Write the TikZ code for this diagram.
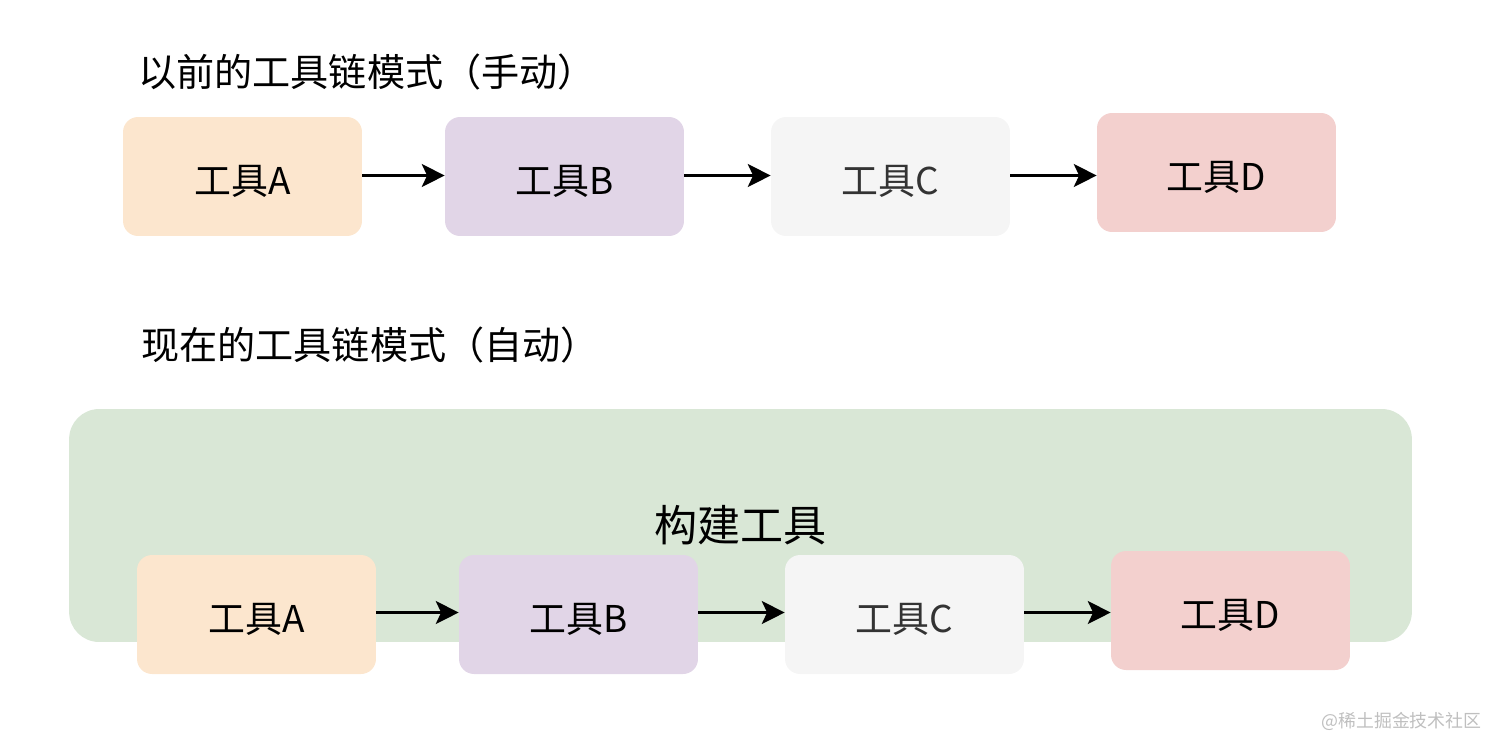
\documentclass[tikz,border=0pt]{standalone}
\usepackage{fontspec}
\setmainfont{Noto Sans CJK SC}
\usetikzlibrary{arrows.meta}

\definecolor{peach}{HTML}{FCE6CE}
\definecolor{lilac}{HTML}{E1D5E7}
\definecolor{pale}{HTML}{F5F5F5}
\definecolor{rose}{HTML}{F3D0CE}
\definecolor{sage}{HTML}{D9E7D6}
\definecolor{darktext}{HTML}{333333}

\begin{document}
\begin{tikzpicture}[x=0.02cm, y=-0.02cm,
	tool/.style={rounded corners=0.3cm, minimum width=4.78cm, minimum height=2.38cm, inner sep=0pt, text height=24pt, text depth=3pt, font=\fontsize{21}{21}\selectfont},
	title/.style={anchor=west, inner sep=0pt, font=\fontsize{21.7}{21.7}\selectfont},
	link/.style={-{Stealth[length=13pt, width=13pt, inset=3pt]}, line width=1.7pt}]
				\useasboundingbox (0,0) rectangle (1490,738);
				
				% manual chain
				\node[title] (T1) at (138,72) {以前的工具链模式（手动）};
				\node[tool, fill=peach] (A1) at (242.5,176.5) {工具A};
				\node[tool, fill=lilac] (B1) at (564.5,176.5) {工具B};
				\node[tool, fill=pale, text=darktext] (C1) at (890.5,176.5) {工具C};
				\node[tool, fill=rose] (D1) at (1216.5,172.5) {工具D};
				
				\draw[link] ([yshift=0.02cm]A1.east) -- ([yshift=0.02cm]B1.west);
				\draw[link] ([yshift=0.02cm]B1.east) -- ([yshift=0.02cm]C1.west);
				\draw[link] ([yshift=0.02cm]C1.east) -- ([yshift=0.02cm]C1.east -| D1.west);
				
				% automatic chain
				\node[title] (T2) at (141,345) {现在的工具链模式（自动）};
				\node[fill=sage, rounded corners=0.6cm, minimum width=26.86cm, minimum height=4.66cm, inner sep=0pt, font=\fontsize{24.5}{24.5}\selectfont] (build) at (740.5,525.5) {构建工具};
				\node[tool, fill=peach] (A2) at (256.5,614.5) {工具A};
				\node[tool, fill=lilac] (B2) at (578.5,614.5) {工具B};
				\node[tool, fill=pale, text=darktext] (C2) at (904.5,614.5) {工具C};
				\node[tool, fill=rose] (D2) at (1230.5,610.5) {工具D};
				
				\draw[link] ([yshift=0.04cm]A2.east) -- ([yshift=0.04cm]B2.west);
				\draw[link] ([yshift=0.04cm]B2.east) -- ([yshift=0.04cm]C2.west);
				\draw[link] ([yshift=0.04cm]C2.east) -- ([yshift=0.04cm]C2.east -| D2.west);
				
				\node[anchor=east, inner sep=0pt, text=black!25, font=\fontsize{10.2}{10.2}\selectfont] (watermark) at (1482,721) {@稀土掘金技术社区};
			\end{tikzpicture}
\end{document}
